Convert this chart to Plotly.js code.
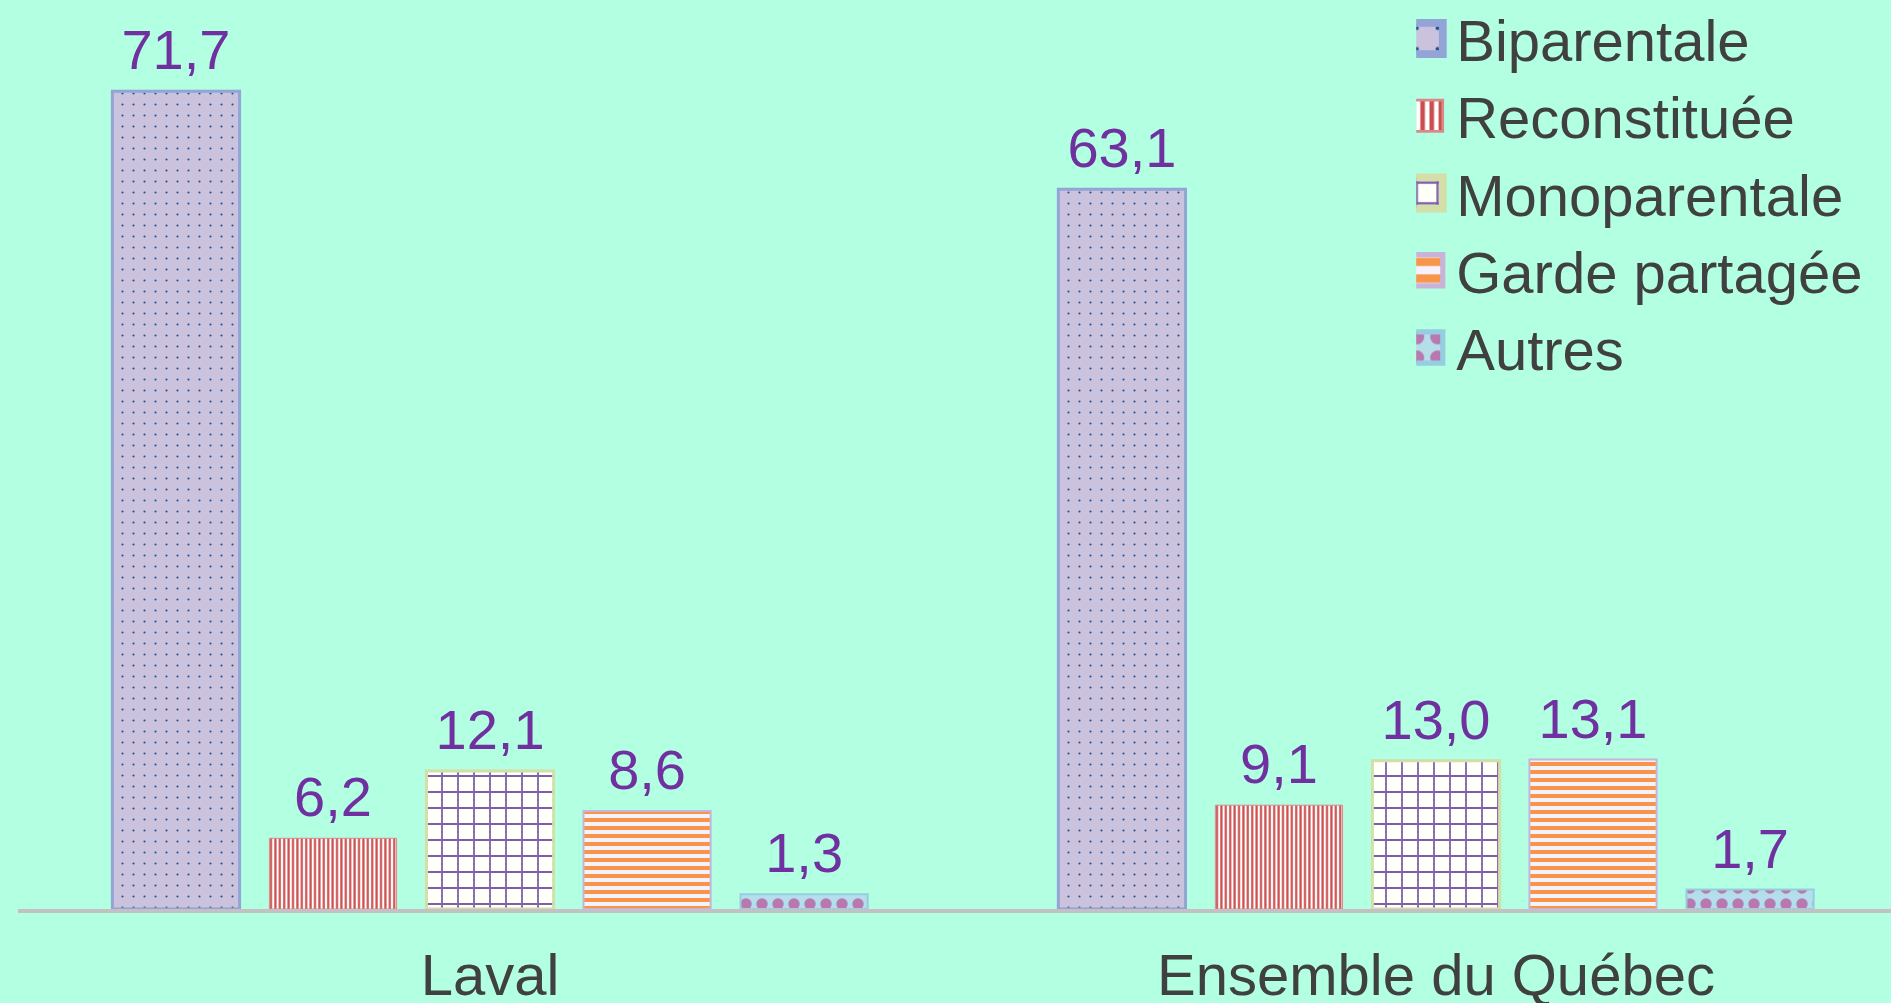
<!DOCTYPE html>
<html>
<head>
<meta charset="utf-8">
<script src="https://cdn.plot.ly/plotly-3.0.1.min.js"></script>
<style>html,body{margin:0;padding:0;background:#b2ffe2;}</style>
</head>
<body>
<div id="chart" style="width:1891px;height:1003px;"></div>
<script>
const categories = ["Laval", "Ensemble du Québec"];
const seriesNames = ["Biparentale", "Reconstituée", "Monoparentale", "Garde partagée", "Autres"];
const biparentale = [71.7, 63.1];
const reconstituee = [6.2, 9.1];
const monoparentale = [12.1, 13.0];
const gardePartagee = [8.6, 13.1];
const autres = [1.3, 1.7];

const seriesValues = [biparentale, reconstituee, monoparentale, gardePartagee, autres];

const styles = [
  {pattern: {shape: ".", bgcolor: "#cbc3dd", fgcolor: "#1f4f8f", size: 11, solidity: 0.03, fillmode: "replace"}, line: {color: "#93a4d6", width: 3}},
  {pattern: {shape: "|", bgcolor: "#ffffff", fgcolor: "#cc4d4d", size: 4.4, solidity: 0.5, fillmode: "replace"}, line: {color: "#d88a8a", width: 1}},
  {pattern: {shape: "+", bgcolor: "#fdfff8", fgcolor: "#7f5fa8", size: 16, solidity: 0.21, fillmode: "replace"}, line: {color: "#d4dea8", width: 3}},
  {pattern: {shape: "-", bgcolor: "#f6f2fb", fgcolor: "#f7964a", size: 8, solidity: 0.5, fillmode: "replace"}, line: {color: "#c8b4d8", width: 2}},
  {pattern: {shape: ".", bgcolor: "#b4dfea", fgcolor: "#b878b0", size: 16, solidity: 0.4, fillmode: "replace"}, line: {color: "#96cde0", width: 2}}
];

const traces = seriesNames.map((name, i) => ({
  type: "bar",
  name: name,
  x: categories,
  y: seriesValues[i],
  marker: {color: styles[i].pattern.bgcolor, pattern: styles[i].pattern, line: styles[i].line},
  texttemplate: "%{y:.1f}",
  textposition: "outside",
  constraintext: "none",
  cliponaxis: false,
  textfont: {family: "Liberation Sans, Arial, sans-serif", size: 56, color: "#7030a0"},
  hoverinfo: "skip"
}));

const layout = {
  width: 1891,
  height: 1003,
  paper_bgcolor: "#b2ffe2",
  plot_bgcolor: "#b2ffe2",
  margin: {l: 18, r: 0, t: 0, b: 94, pad: 0, autoexpand: false},
  separators: ", ",
  barmode: "group",
  bargap: 0.17,
  bargroupgap: 0.19,
  font: {family: "Liberation Sans, Arial, sans-serif", size: 58, color: "#404040"},
  xaxis: {
    type: "category",
    range: [-0.499, 1.481],
    showline: true,
    linecolor: "#c4c0c4",
    linewidth: 4,
    showgrid: false,
    zeroline: false,
    ticks: "",
    ticklabelstandoff: 12,
    automargin: false,
    tickfont: {size: 58, color: "#404040"}
  },
  yaxis: {
    range: [0, 79.7],
    visible: false,
    showgrid: false,
    zeroline: false
  },
  showlegend: true,
  legend: {
    x: 0.7465,
    y: 1,
    xanchor: "left",
    yanchor: "top",
    bgcolor: "rgba(0,0,0,0)",
    font: {size: 58, color: "#404040"},
    tracegroupgap: 0,
    traceorder: "normal"
  }
};

Plotly.newPlot("chart", traces, layout, {staticPlot: true, displayModeBar: false}).then(gd => {
  const leg = gd.querySelector("g.legend");
  if (leg) {
    leg.setAttribute("transform", (leg.getAttribute("transform") || "") + " translate(0,-5)");
    leg.querySelectorAll("g.traces").forEach(g => {
      const t = g.getAttribute("transform") || "";
      const m = t.match(/translate\(\s*([-\d.e]+)[ ,]+([-\d.e]+)\s*\)/);
      if (m) g.setAttribute("transform", "translate(" + m[1] + "," + (parseFloat(m[2]) * 0.985) + ")");
    });
  }
  gd.querySelectorAll(".legend .legendpoints path").forEach(p => {
    const t = p.getAttribute("transform") || "";
    p.setAttribute("transform", t + " translate(-9,0) scale(2.6)");
  });
  gd.querySelectorAll(".bartext").forEach(el => {
    const t = el.getAttribute("transform") || "";
    el.setAttribute("transform", "translate(0,-7) " + t);
  });
});
</script>
</body>
</html>
